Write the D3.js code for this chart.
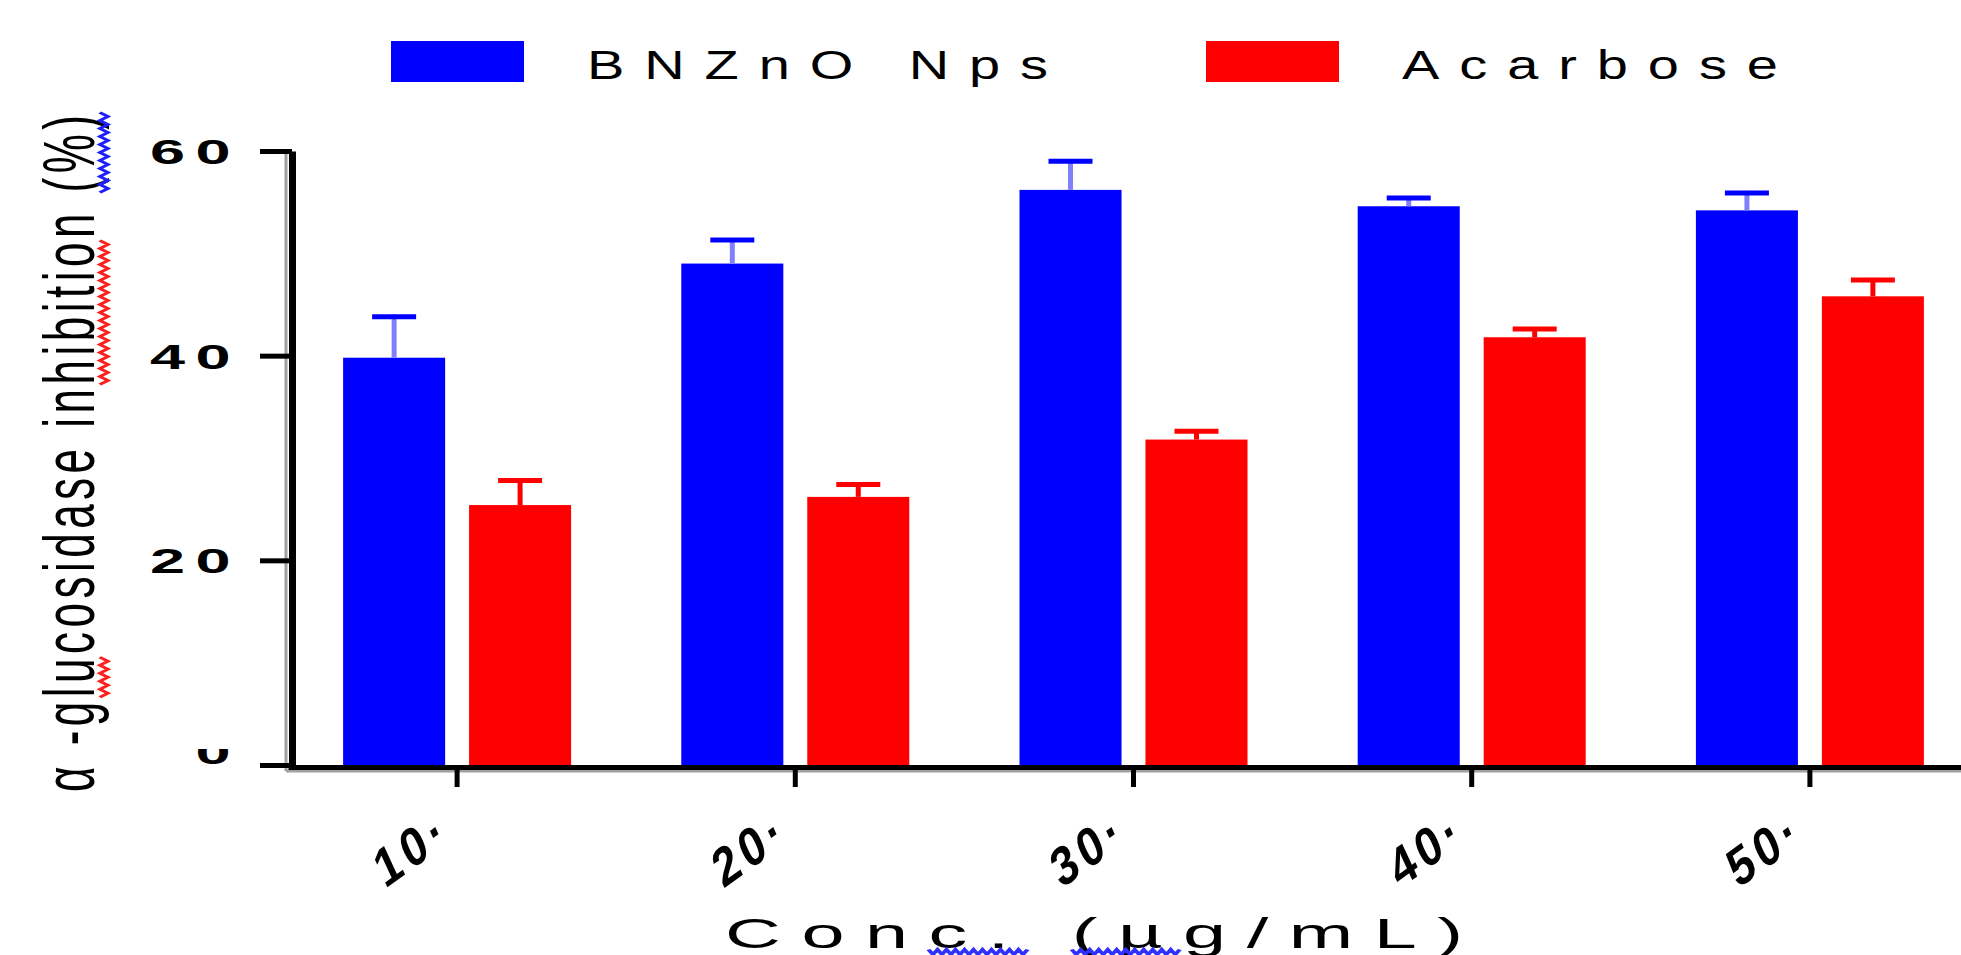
<!DOCTYPE html>
<html>
<head>
<meta charset="utf-8">
<script src="https://cdn.jsdelivr.net/npm/d3@7"></script>
<style>
    body { margin: 0; background: #fff; }
    svg { display: block; }
    text { font-family: "Liberation Sans", Arial, sans-serif; fill: #000; }
</style>
</head>
<body>
<div id="chart"></div>
<script>
// values
const categories = ["10", "20", "30", "40", "50"];
const seriesNames = ["BNZnO Nps", "Acarbose"];
const bnznoMean = [39.8, 49.0, 56.2, 54.6, 54.2];
const bnznoErr = [4.2, 2.5, 3.0, 1.0, 1.9];
const acarboseMean = [25.4, 26.2, 31.8, 41.8, 45.8];
const acarboseErr = [2.6, 1.4, 1.0, 1.0, 1.8];
const yTicks = [0, 20, 40, 60];

const colors = ["#0000ff", "#ff0000"];
const stemColors = ["#8080ff", "#ff0000"];

let wid = 1961;
let het = 955;

let series = seriesNames.map((name, s) => ({
    name: name,
    color: colors[s],
    stem: stemColors[s],
    values: categories.map((c, i) => ({
        cat: c,
        mean: s === 0 ? bnznoMean[i] : acarboseMean[i],
        err: s === 0 ? bnznoErr[i] : acarboseErr[i]
    }))
}));

let svg = d3.select("#chart").append("svg")
    .attr("width", wid)
    .attr("height", het);

let x0 = d3.scaleBand()
    .domain(categories)
    .range([288, 1979]);

let groupW = 228;
let x1 = d3.scaleBand()
    .domain(seriesNames)
    .range([0, groupW])
    .paddingInner(0.19);

let groupOff = x0.bandwidth() / 2 - groupW / 2;

let y = d3.scaleLinear()
    .domain([0, 60])
    .range([765, 151]);

let barX = d => x0(d.cat) + groupOff + x1(d.s.name);
let barMid = d => barX(d) + x1.bandwidth() / 2;

// spread a text out with letter-spacing so it spans `target` units
function fitText(sel, target) {
    let node = sel.node();
    let natural = node.getComputedTextLength();
    let n = sel.text().length;
    sel.style("letter-spacing", ((target - natural) / (n - 1)) + "px");
    return sel;
}

// spell-check squiggles under parts of the axis titles
function squiggle(g, textNode, from, to, yc, amp, period, color) {
    let xa = textNode.getStartPositionOfChar(from).x;
    let xb = textNode.getEndPositionOfChar(to - 1).x;
    let pts = [];
    let k = 0;
    for (let xx = xa; xx <= xb; xx += period / 2) {
        pts.push([xx, yc + (k % 2 === 0 ? -amp : amp)]);
        k++;
    }
    g.append("path")
        .attr("d", d3.line()(pts))
        .attr("fill", "none")
        .attr("stroke", color)
        .attr("stroke-width", 2.5);
}

// bars
let gSeries = svg.selectAll(".series")
    .data(series)
    .enter().append("g")
    .attr("class", "series");

gSeries.selectAll("rect")
    .data(d => d.values.map(v => Object.assign({ s: d }, v)))
    .enter().append("rect")
    .attr("x", barX)
    .attr("width", x1.bandwidth())
    .attr("y", d => y(d.mean))
    .attr("height", d => y(0) - y(d.mean))
    .attr("fill", d => d.s.color);

// error bars (upper only)
let capHalf = 22;
let eb = gSeries.selectAll(".err")
    .data(d => d.values.map(v => Object.assign({ s: d }, v)))
    .enter().append("g")
    .attr("class", "err");

eb.append("line")
    .attr("x1", barMid)
    .attr("x2", barMid)
    .attr("y1", d => y(d.mean))
    .attr("y2", d => y(d.mean + d.err))
    .attr("stroke", d => d.s.stem)
    .attr("stroke-width", 5);

eb.append("line")
    .attr("x1", d => barMid(d) - capHalf)
    .attr("x2", d => barMid(d) + capHalf)
    .attr("y1", d => y(d.mean + d.err) + 2)
    .attr("y2", d => y(d.mean + d.err) + 2)
    .attr("stroke", d => d.s.color)
    .attr("stroke-width", 5);

// y axis
let yAxisX = 292;
svg.append("line")
    .attr("x1", yAxisX - 6).attr("x2", yAxisX - 6)
    .attr("y1", y(60)).attr("y2", y(0) + 6)
    .attr("stroke", "#a0a0a0")
    .attr("stroke-width", 3);

let yAxis = d3.axisLeft(y)
    .tickValues(yTicks)
    .tickSize(32)
    .tickSizeOuter(0)
    .tickFormat("");

let gy = svg.append("g")
    .attr("transform", `translate(${yAxisX},0)`)
    .call(yAxis);
gy.select(".domain").attr("stroke", "#000").attr("stroke-width", 7);
gy.selectAll(".tick line").attr("stroke", "#000").attr("stroke-width", 5);

// the "0" label is half cut off in the original
svg.append("clipPath").attr("id", "zeroClip")
    .append("rect")
    .attr("x", 0).attr("y", y(0) - 16)
    .attr("width", yAxisX).attr("height", 60);

svg.append("g").selectAll("g")
    .data(yTicks)
    .enter().append("g")
    .attr("clip-path", d => d === 0 ? "url(#zeroClip)" : null)
    .append("text")
    .attr("transform", d => `translate(241,${d === 0 ? y(d) - 14 : y(d)}) scale(1.75,1)`)
    .attr("text-anchor", "end")
    .attr("dy", "0.36em")
    .style("font-size", "36px")
    .style("font-weight", "bold")
    .style("letter-spacing", "6px")
    .text(d => d);

// x axis
svg.append("line")
    .attr("x1", yAxisX - 6).attr("x2", wid)
    .attr("y1", y(0) + 6).attr("y2", y(0) + 6)
    .attr("stroke", "#a0a0a0")
    .attr("stroke-width", 3);

let xAxis = d3.axisBottom(x0)
    .tickSize(20)
    .tickSizeOuter(0)
    .tickFormat("");

let gx = svg.append("g")
    .attr("transform", `translate(0,${y(0) + 2})`)
    .call(xAxis);
gx.select(".domain").attr("stroke", "#000").attr("stroke-width", 5);
gx.selectAll(".tick line").attr("stroke", "#000").attr("stroke-width", 5);

svg.append("g").selectAll("text")
    .data(categories)
    .enter().append("text")
    .attr("transform", d => `translate(${x0(d) + x0.bandwidth() / 2 - 72},889) scale(1,1.25) rotate(-30)`)
    .attr("text-anchor", "start")
    .style("font-size", "44px")
    .style("font-weight", "bold")
    .style("letter-spacing", "5px")
    .text(d => d + "·");

// axis titles
let xTitle = "Conc. (µg/mL)";
let gxt = svg.append("g")
    .attr("transform", "translate(725,948) scale(1.8,1)");
let xt = gxt.append("text")
    .style("font-size", "43px")
    .text(xTitle);
fitText(xt, 410);
squiggle(gxt, xt.node(), 3, 5, 4, 2.5, 5, "#3030ff");
squiggle(gxt, xt.node(), 6, 8, 4, 2.5, 5, "#3030ff");

let yTitle = "α -glucosidase inhibition (%)";
let gyt = svg.append("g")
    .attr("transform", "translate(94,792) rotate(-90) scale(1,1.65)");
let yt = gyt.append("text")
    .style("font-size", "44px")
    .text(yTitle);
fitText(yt, 677);
squiggle(gyt, yt.node(), 4, 6, 6, 2.5, 8, "#ff2020");
squiggle(gyt, yt.node(), 17, 24, 6, 2.5, 8, "#ff2020");
squiggle(gyt, yt.node(), 26, 29, 6, 2.5, 8, "#2020ff");

// legend
let legendX = d3.scaleBand()
    .domain(seriesNames)
    .range([391, 391 + 815 * 2]);
let legendTextLen = [461, 376];
let legendStretch = 1.4;

let lg = svg.selectAll(".legend")
    .data(series)
    .enter().append("g")
    .attr("class", "legend")
    .attr("transform", d => `translate(${legendX(d.name)},0)`);

lg.append("rect")
    .attr("x", 0)
    .attr("y", 41)
    .attr("width", 133)
    .attr("height", 41)
    .attr("fill", d => d.color);

lg.append("text")
    .attr("transform", `translate(196,79) scale(${legendStretch},1)`)
    .style("font-size", "40px")
    .text(d => d.name)
    .each(function (d, i) { fitText(d3.select(this), legendTextLen[i] / legendStretch); });
</script>
</body>
</html>
